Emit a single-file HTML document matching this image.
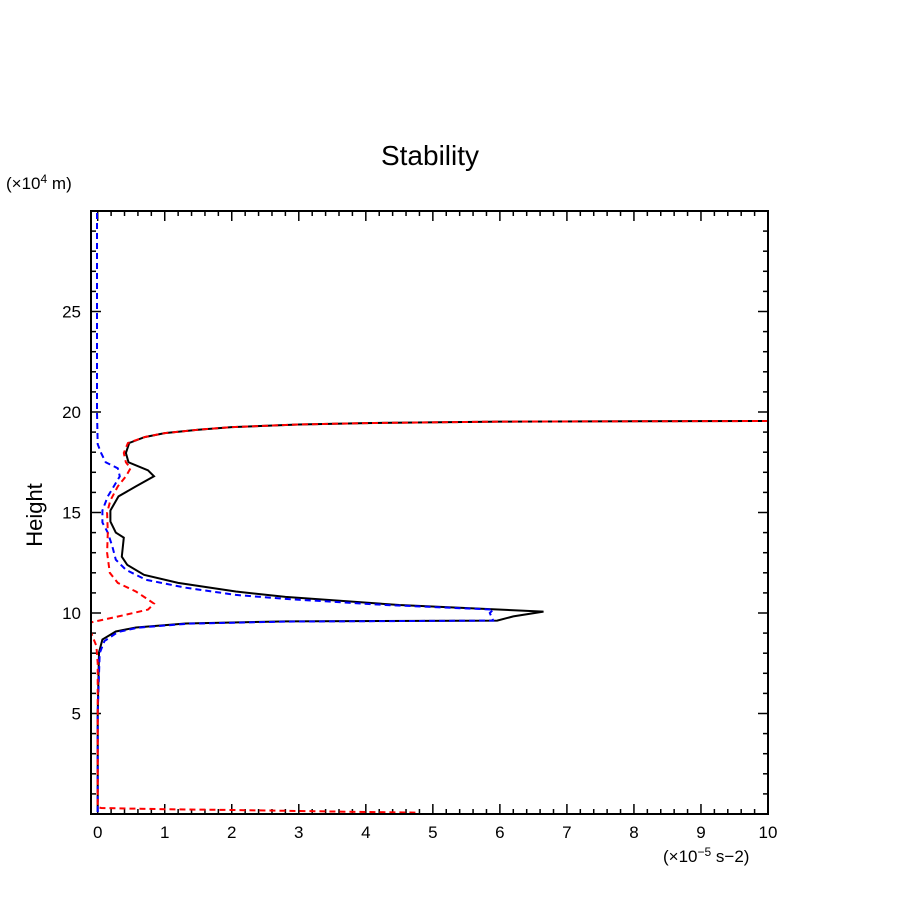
<!DOCTYPE html>
<html><head><meta charset="utf-8"><style>
body{margin:0;background:#fff;width:904px;height:904px;overflow:hidden}
svg text{font-family:"Liberation Sans",sans-serif;fill:#000}
</style></head><body>
<svg id="chart" width="904" height="904" xmlns="http://www.w3.org/2000/svg">
<rect width="904" height="904" fill="#fff"/>
<text x="430" y="165" font-size="28" text-anchor="middle">Stability</text>
<text x="6" y="189" font-size="17">(×10<tspan dy="-6" font-size="12">4</tspan><tspan dy="6"> m)</tspan></text>
<text transform="translate(42,515) rotate(-90)" font-size="22" text-anchor="middle">Height</text>
<text x="663" y="862" font-size="17">(×10<tspan dy="-6" font-size="12">−5</tspan><tspan dy="6"> s−2)</tspan></text>
<g id="ticks"></g>
<g id="series"></g>
<rect x="91" y="211" width="677" height="603" fill="none" stroke="#000" stroke-width="2"/>
</svg>
<script>
const xTickLabels=[0,1,2,3,4,5,6,7,8,9,10];
const yTickLabels=[5,10,15,20,25];
const blackSeries=[
[10,19.55],[6,19.52],[4,19.45],[3,19.38],[2,19.25],[1.5,19.12],[1,18.95],[0.7,18.75],[0.47,18.46],[0.42,17.96],[0.46,17.5],[0.75,17.1],[0.84,16.8],[0.57,16.3],[0.31,15.8],[0.19,15.1],[0.19,14.55],[0.27,14.0],[0.39,13.75],[0.36,12.8],[0.44,12.4],[0.69,11.9],[1.2,11.5],[2.06,11.07],[2.8,10.8],[4.5,10.4],[6.65,10.07],[6.2,9.83],[5.96,9.62],[2.8,9.58],[1.31,9.48],[0.57,9.28],[0.27,9.08],[0.07,8.68],[0.02,8.04],[0.0,5],[0.0,0.3],[0.0,0.1]];
const blueSeries=[
[-0.01,29.9],[-0.01,25],[-0.01,20],[0.0,18.4],[0.05,17.96],[0.12,17.5],[0.3,17.2],[0.33,16.8],[0.24,16.3],[0.15,15.8],[0.07,15.1],[0.07,14.5],[0.15,14.0],[0.22,13.3],[0.27,12.65],[0.42,12.15],[0.72,11.65],[1.31,11.26],[2.06,10.9],[2.8,10.7],[4.3,10.4],[5.9,10.17],[5.85,10.0],[5.9,9.62],[2.8,9.57],[1.35,9.47],[0.6,9.27],[0.3,9.05],[0.1,8.6],[0.03,8.0],[0.0,5],[0.0,0.3],[0.0,0.0]];
const redSeries=[
[10,19.55],[6,19.52],[4,19.45],[3,19.38],[2,19.25],[1.5,19.12],[1,18.95],[0.7,18.75],[0.45,18.46],[0.39,17.96],[0.42,17.5],[0.49,17.2],[0.42,16.8],[0.3,16.3],[0.19,15.6],[0.14,15.0],[0.15,14.0],[0.14,13.0],[0.18,12.0],[0.3,11.5],[0.57,11.07],[0.75,10.67],[0.84,10.47],[0.75,10.17],[0.31,9.83],[-0.1,9.53],[-0.1,9.03],[-0.02,8.36],[0.0,7.5],[0.0,5],[0.0,0.35],[0.05,0.3],[0.5,0.27],[1,0.24],[2,0.2],[3,0.15],[4,0.1],[4.74,0.07]];
const X0=-0.1,X1=10,Y0=0,Y1=30;
function sx(v){return 91+(v-X0)/(X1-X0)*677;}
function sy(v){return 814-(v-Y0)/(Y1-Y0)*603;}
const NS="http://www.w3.org/2000/svg";
const tg=document.getElementById('ticks');
function line(x1,y1,x2,y2,name){const l=document.createElementNS(NS,'line');
l.setAttribute('x1',x1);l.setAttribute('y1',y1);l.setAttribute('x2',x2);l.setAttribute('y2',y2);
l.setAttribute('stroke','#000');l.setAttribute('stroke-width','1.5');


tg.appendChild(l);}
for(let i=0;i<=50;i++){const v=i*0.2;const x=sx(v);const L=(i%5===0)?10:5;
line(x,814,x,814-L,'x-tick');line(x,211,x,211+L,'x-tick-top');}
for(let i=1;i<=29;i++){const y=sy(i);const L=(i%5===0)?10:5;
line(91,y,91+L,y,'y-tick');line(768,y,768-L,y,'y-tick-right');}
xTickLabels.forEach(v=>{const t=document.createElementNS(NS,'text');
t.setAttribute('x',sx(v));t.setAttribute('y',838);t.setAttribute('font-size','17');t.setAttribute('text-anchor','middle');


t.textContent=v;tg.appendChild(t);});
yTickLabels.forEach(v=>{const t=document.createElementNS(NS,'text');
t.setAttribute('x',81);t.setAttribute('y',sy(v)+6);t.setAttribute('font-size','17');t.setAttribute('text-anchor','end');


t.textContent=v;tg.appendChild(t);});
const sg=document.getElementById('series');
function draw(data,color,dash,name){const p=document.createElementNS(NS,'polyline');
p.setAttribute('points',data.map(d=>sx(d[0]).toFixed(1)+','+sy(d[1]).toFixed(1)).join(' '));
p.setAttribute('fill','none');p.setAttribute('stroke',color);p.setAttribute('stroke-width','2');
if(dash)p.setAttribute('stroke-dasharray',dash);


sg.appendChild(p);}
draw(blackSeries,'#000',null,'black-series-line');
draw(blueSeries,'#0000ff','6,4','blue-series-line');
draw(redSeries,'#ff0000','6,4','red-series-line');
</script>
</body></html>
